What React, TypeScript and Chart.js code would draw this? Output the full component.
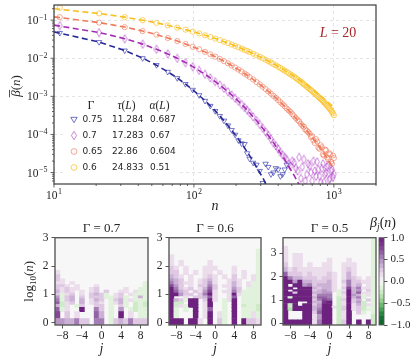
import React, { useEffect, useRef } from 'react';
import { Chart, registerables } from 'chart.js';

Chart.register(...registerables);

const SERIF = "'Liberation Serif', 'DejaVu Serif', serif";
const SANS = "'DejaVu Sans', 'Liberation Sans', sans-serif";
const INK = '#262626';
const FRAME = '#3c3c3c';
const GRID = '#dedede';

// ---------------- top panel data ----------------
const N_LINE = [10, 21, 32, 43, 54, 65, 76, 87, 98, 120, 142, 164, 186, 208, 230, 250, 280, 310, 340, 370, 400, 430, 460, 490, 520, 550, 580, 610, 640, 670, 700, 730, 760, 790, 820, 850, 880, 910, 940, 970, 1000];
const N_MARK = [11, 21, 32, 43, 54, 65, 76, 87, 98, 109, 120, 131, 142, 153, 164, 175, 186, 197, 208, 219, 230, 240, 250, 265, 280, 295, 310, 325, 340, 355, 370, 385, 400, 415, 430, 445, 460, 475, 490, 505, 520, 535, 550, 565, 580, 595, 610, 625, 640, 655, 670, 685, 700, 715, 730, 745, 760, 775, 790, 805, 820, 835, 850, 865, 880, 895, 910, 925, 940, 955, 970, 985, 1000];

const GAMMA_LABELS = ['0.75', '0.7', '0.65', '0.6'];
const TAU_LABELS = ['11.284', '17.283', '22.86', '24.833'];
const ALPHA_LABELS = ['0.687', '0.67', '0.604', '0.51'];

const FIT_075 = [0.0492, 0.0267, 0.0160, 0.0101, 0.00658, 0.00442, 0.00303, 0.00211, 0.00149, 7.7e-4, 4.15e-4, 2.29e-4, 1.30e-4, 7.5e-5, 4.4e-5, 2.77e-5, 1.4e-5, 7.3e-6, 3.8e-6, 2.1e-6, 1.1e-6];
const FIT_07 = [0.074, 0.0474, 0.0327, 0.0235, 0.0173, 0.0130, 0.00997, 0.00772, 0.00604, 0.00380, 0.00245, 0.00162, 0.00109, 7.43e-4, 5.13e-4, 3.70e-4, 2.31e-4, 1.46e-4, 9.4e-5, 6.1e-5, 4.0e-5, 2.7e-5, 1.8e-5, 1.2e-5, 8.4e-6, 5.7e-6, 4.0e-6, 2.8e-6];
const FIT_065 = [0.122, 0.0866, 0.0658, 0.0518, 0.0417, 0.0342, 0.0284, 0.0238, 0.0201, 0.01472, 0.0110, 0.00836, 0.00645, 0.00503, 0.00397, 0.00322, 0.00239, 0.00179, 0.00136, 0.00104, 8.0e-4, 6.2e-4, 4.9e-4, 3.8e-4, 3.0e-4, 2.4e-4, 1.94e-4, 1.56e-4, 1.26e-4, 1.02e-4, 8.3e-5, 6.8e-5, 5.5e-5, 4.6e-5, 3.8e-5, 3.1e-5, 2.6e-5, 2.1e-5, 1.8e-5, 1.5e-5, 1.24e-5];
const FIT_06 = [0.200, 0.1497, 0.1202, 0.0999, 0.0849, 0.0732, 0.0639, 0.0564, 0.0501, 0.0402, 0.0329, 0.0273, 0.0230, 0.0195, 0.0167, 0.01458, 0.01202, 0.01001, 0.00840, 0.00711, 0.00605, 0.00518, 0.00446, 0.00386, 0.00335, 0.00292, 0.00256, 0.00225, 0.00198, 0.00175, 0.00155, 0.00138, 0.00122, 0.00109, 9.75e-4, 8.7e-4, 7.8e-4, 7.0e-4, 6.3e-4, 5.7e-4, 5.2e-4];

const MARK_075 = [0.046, 0.0265, 0.0159, 0.0100, 0.0066, 0.0044, 0.0030, 0.0021, 0.00148, 0.00107, 7.6e-4, 5.6e-4, 4.1e-4, 3.05e-4, 2.3e-4, 1.72e-4, 1.3e-4, 9.8e-5, 7.0e-5, 5.8e-5, 5.6e-5, 3.2e-5, 2.3e-5, 1.8e-5, 1.6e-5, 1.1e-5, 5.3e-6, 1.7e-5, 1.4e-5, 9e-6, 1.0e-5, 1.3e-5, 1.2e-5, 8e-6, 9e-6, 1.2e-5, 1.6e-5];
const MARK_07 = [0.072, 0.0470, 0.0325, 0.0234, 0.0172, 0.0130, 0.0099, 0.0077, 0.0060, 0.0048, 0.0038, 0.00305, 0.00244, 0.00199, 0.00161, 0.00132, 0.00108, 8.9e-4, 7.4e-4, 6.1e-4, 5.1e-4, 4.35e-4, 3.7e-4, 2.9e-4, 2.3e-4, 1.83e-4, 1.45e-4, 1.17e-4, 9.5e-5, 7.6e-5, 6.0e-5, 5.0e-5, 4.2e-5, 3.4e-5, 2.9e-5, 2.5e-5, 2.2e-5, 1.7e-5, 1.5e-5, 2.0e-5, 1.8e-5, 1.3e-5, 1.1e-5, 2.5e-5, 7e-6, 1.4e-5, 2.2e-5, 6e-6, 9e-6, 1.7e-5, 1.5e-5, 1.0e-5, 6e-6, 2.0e-5, 1.1e-5, 8e-6, 1.9e-5, 1.2e-5, 8e-6, 5.5e-6, 1.3e-5, 1.7e-5, 5.5e-6, 9e-6, 1.0e-5, 1.4e-5, 1.6e-5, 6.5e-6, 7e-6, 1.1e-5, 1.2e-5, 7.5e-6, 9e-6];
const MARK_065 = [0.120, 0.0862, 0.0655, 0.0516, 0.0416, 0.0341, 0.0283, 0.0237, 0.0200, 0.0172, 0.0147, 0.0127, 0.0110, 0.0096, 0.00835, 0.00735, 0.00645, 0.00570, 0.00503, 0.00447, 0.00397, 0.00358, 0.00322, 0.00277, 0.00238, 0.00206, 0.00178, 0.00155, 0.00135, 0.00118, 0.00103, 9.1e-4, 8.0e-4, 7.0e-4, 6.2e-4, 5.5e-4, 4.8e-4, 4.3e-4, 3.9e-4, 3.4e-4, 3.0e-4, 2.7e-4, 2.4e-4, 2.2e-4, 1.9e-4, 1.7e-4, 1.6e-4, 1.35e-4, 1.25e-4, 1.15e-4, 1.05e-4, 8.5e-5, 9.0e-5, 7.0e-5, 6.0e-5, 7.5e-5, 6.5e-5, 4.5e-5, 4.2e-5, 5.2e-5, 4.6e-5, 3.0e-5, 2.8e-5, 4.0e-5, 3.8e-5, 2.5e-5, 2.2e-5, 3.2e-5, 3.0e-5, 1.9e-5, 1.7e-5, 2.8e-5, 2.4e-5];
const MARK_06 = [0.21, 0.150, 0.120, 0.0998, 0.0848, 0.0731, 0.0638, 0.0563, 0.0500, 0.0448, 0.0401, 0.0363, 0.0328, 0.0299, 0.0272, 0.0250, 0.0229, 0.0211, 0.0194, 0.0180, 0.0166, 0.0156, 0.0145, 0.0132, 0.01195, 0.01090, 0.00995, 0.00913, 0.00834, 0.00767, 0.00705, 0.00650, 0.00598, 0.00552, 0.00510, 0.00473, 0.00438, 0.00406, 0.00377, 0.00350, 0.00325, 0.00302, 0.00280, 0.00260, 0.00242, 0.00225, 0.00208, 0.00194, 0.00180, 0.00168, 0.00156, 0.00146, 0.00136, 0.00127, 0.00119, 0.00111, 0.00104, 9.7e-4, 9.1e-4, 8.5e-4, 8.0e-4, 7.5e-4, 7.0e-4, 6.5e-4, 6.1e-4, 5.7e-4, 5.3e-4, 4.9e-4, 4.6e-4, 4.25e-4, 3.9e-4, 3.55e-4, 3.2e-4];

const X_MAJOR = [10, 100, 1000];
const Y_MAJOR = [1e-5, 1e-4, 1e-3, 1e-2, 1e-1];

const LINE_COLORS = ['#28299a', '#a52db5', '#ef7a5a', '#f8c01f'];
const MARK_COLORS = ['rgba(55,58,175,0.8)', 'rgba(178,70,200,0.75)', 'rgba(240,122,92,0.75)', 'rgba(249,193,40,0.85)'];

// ---------------- heatmap data ----------------
// codes: '.'=0, '1'..'9'=0.15..0.95, 'X'=1.0, 'a'..'e'=-0.15..-0.55 ; rows listed top -> bottom
const ROW_EDGES = [-0.1, 0.15, 0.39, 0.54, 0.65, 0.74, 0.85, 0.95, 1.05, 1.15, 1.25, 1.35, 1.45, 1.55, 1.7, 1.85, 2.0, 2.2, 2.4, 2.6, 2.8, 3.0, 3.3, 3.7];
const J_SITES = [-9, -8, -7, -6, -5, -4, -3, -2, -1, 0, 1, 2, 3, 4, 5, 6, 7, 8, 9];
const J_TICKS = [-8, -4, 0, 4, 8];
const LOGN_TICKS = [0, 1, 2, 3];

const HEAT_G07 = [
  '...................',
  '...................',
  '...................',
  '...................',
  '...................',
  '...................',
  '...................',
  '...................',
  '1..................',
  '2..................',
  '21.................',
  '11.1..............a',
  '221.1...1.........a',
  '21211..12.....1..aa',
  '3121.1.12.2..11.1aa',
  '2a12.1.232a.12.1aaa',
  '4a23.2.222aa12a.a3a',
  '5a23.3.132.a23a1aaa',
  '6b12.3.121.a13a.bab',
  '3b1.a2..22.a.2a.bab',
  '6a1..X..52.a.4.abaa',
  '7.2.1...63.a.X.1.aa',
  '4433522.55.a2325222',
];
const HEAT_G06 = [
  '...................',
  '...................',
  '...................',
  '...................',
  '..................a',
  '1.................a',
  '1.1.....1.........a',
  '21.1...111...1....a',
  '22.1.1.11.1..1.1..a',
  '321.1..121.1.2.1.1a',
  '432.1.1231..121..1a',
  '53211.1241..131.1aa',
  '742.1.2252.1131.1aa',
  'X5212.1362..142.aaa',
  'X632.21471.1152aaaa',
  'XX422.25X1..1X1aaaa',
  'X..1.22361..16.aaaa',
  'X32aXX.2X1.a1X.aaaa',
  'Xbb.XX.1X..a.X.aaaa',
  'Xb1aXX.1X..a.X.baab',
  'Xa.a.X.16..a.X.aaab',
  'Xa...X.1X.1a.X.aa1a',
  'XXX.XX1.X.2a.X.X221',
];
const HEAT_G05 = [
  '..................a',
  '1.................a',
  '1.11..............a',
  '1.11.....1...1....a',
  '2.11.1..11..111...a',
  '3121111111..121...a',
  '62221211121.131...a',
  'X5332221221.1321.1a',
  'XX4X3322231.252211a',
  'X.XX4523331.1523.1a',
  'XX.XXX32331.273511a',
  'X.XXXX23431a1X34.2a',
  'XX2XXX3344.a2X3611a',
  'XXXXXX2555.a1X43a1a',
  'XaXXXX3665.b1X35a.a',
  'XXXXXX2576.b2X23.2a',
  'XXX..X338X.b1X24b.a',
  'XbX.XX24XX.b1X13b1a',
  'XbXXXX34XX1b2X12b.a',
  'XcXXXX35XX.b2X12baa',
  'X...XX26XX.b1X.2a.a',
  'X...XX14XX.b1X....b',
  'XXXXXX15XX.b2X.X.Xb',
];
const PANEL_TITLES = ['0.7', '0.6', '0.5'];
const CBAR_TICKS = [-1, -0.5, 0, 0.5, 1];
const CBAR_BANDS = 20;

// PRGn-like colour map (value -1 .. 1)
const CMAP_STOPS = [-1, -0.8, -0.6, -0.4, -0.2, 0, 0.2, 0.4, 0.6, 0.8, 1];
const CMAP_RGB = [[12, 92, 42], [27, 120, 55], [90, 174, 97], [166, 219, 160], [217, 240, 211], [247, 247, 247], [231, 212, 232], [194, 165, 207], [153, 112, 171], [126, 58, 142], [108, 34, 126]];

function cmap(v: number): string {
  const t = Math.max(-1, Math.min(1, v));
  let i = 0;
  while (i < CMAP_STOPS.length - 2 && t > CMAP_STOPS[i + 1]) i++;
  const f = (t - CMAP_STOPS[i]) / (CMAP_STOPS[i + 1] - CMAP_STOPS[i]);
  const a = CMAP_RGB[i], b = CMAP_RGB[i + 1];
  const c = a.map((x, k) => Math.round(x + (b[k] - x) * f));
  return `rgb(${c[0]},${c[1]},${c[2]})`;
}

function codeValue(ch: string): number {
  if (ch === '.') return 0;
  if (ch === 'X') return 1;
  if (ch >= '1' && ch <= '9') return (Number(ch) + 0.5) / 10;
  const k = 'abcde'.indexOf(ch);
  return k >= 0 ? -(k + 1.5) / 10 : 0;
}

function heatCells(grid: string[]) {
  const cells: any[] = [];
  const n = grid.length;
  grid.forEach((row, r) => {
    const k = n - 1 - r;
    const lo = ROW_EDGES[k];
    const hi = ROW_EDGES[k + 1];
    for (let c = 0; c < row.length; c++) {
      const v = codeValue(row[c]);
      if (v === 0) continue;
      cells.push({ x: J_SITES[c], y: [lo, hi], v });
    }
  });
  return cells;
}

const minus = (v: number) => (v < 0 ? '\u2212' + String(-v) : String(v));

function drawRuns(ctx: CanvasRenderingContext2D, runs: { t: string; f: string; dy?: number }[], cx: number, base: number) {
  let total = 0;
  for (const r of runs) { ctx.font = r.f; total += ctx.measureText(r.t).width; }
  let x = cx - total / 2;
  const pos: number[] = [];
  ctx.textAlign = 'left';
  ctx.textBaseline = 'alphabetic';
  for (const r of runs) {
    ctx.font = r.f;
    pos.push(x);
    ctx.fillText(r.t, x, base + (r.dy || 0));
    x += ctx.measureText(r.t).width;
  }
  pos.push(x);
  return pos;
}

function drawPow(ctx: CanvasRenderingContext2D, exp: number, x: number, base: number, align: 'center' | 'right') {
  const b = '10';
  const e = exp < 0 ? '\u2212' + String(-exp) : String(exp);
  const fb = `11.5px ${SERIF}`;
  const fe = `8px ${SERIF}`;
  ctx.font = fb; const wb = ctx.measureText(b).width;
  ctx.font = fe; const we = ctx.measureText(e).width;
  const total = wb + we + 0.5;
  const x0 = align === 'center' ? x - total / 2 : x - total;
  ctx.textAlign = 'left';
  ctx.textBaseline = 'alphabetic';
  ctx.font = fb; ctx.fillText(b, x0, base);
  ctx.font = fe; ctx.fillText(e, x0 + wb + 0.5, base - 4.6);
}

function drawLegendMarker(ctx: CanvasRenderingContext2D, i: number, x: number, y: number) {
  ctx.strokeStyle = MARK_COLORS[i];
  ctx.lineWidth = 0.9;
  ctx.beginPath();
  if (i === 0) {
    ctx.moveTo(x - 3.2, y - 2.2); ctx.lineTo(x + 3.2, y - 2.2); ctx.lineTo(x, y + 3.2); ctx.closePath();
  } else if (i === 1) {
    ctx.moveTo(x, y - 4.2); ctx.lineTo(x + 2.6, y); ctx.lineTo(x, y + 4.2); ctx.lineTo(x - 2.6, y); ctx.closePath();
  } else {
    ctx.arc(x, y, 2.9, 0, Math.PI * 2);
  }
  ctx.stroke();
}

const topDecor = {
  id: 'topDecor',
  afterDraw(chart: any) {
    const { ctx, chartArea: a, scales } = chart;
    const x = scales.x, y = scales.y;
    ctx.save();
    ctx.strokeStyle = FRAME;
    ctx.lineWidth = 0.8;
    ctx.beginPath();
    for (let e = 1; e <= 3; e++) {
      for (let m = 1; m <= 9; m++) {
        const v = m * Math.pow(10, e);
        if (v < x.min || v > x.max) continue;
        const px = x.getPixelForValue(v);
        const len = m === 1 ? 3.5 : 2;
        ctx.moveTo(px, a.bottom); ctx.lineTo(px, a.bottom + len);
      }
    }
    for (let e = -6; e <= -1; e++) {
      for (let m = 1; m <= 9; m++) {
        const v = m * Math.pow(10, e);
        if (v < y.min || v > y.max) continue;
        const py = y.getPixelForValue(v);
        const len = m === 1 ? 3.5 : 2;
        ctx.moveTo(a.left - len, py); ctx.lineTo(a.left, py);
      }
    }
    ctx.stroke();
    ctx.lineWidth = 1.2;
    ctx.strokeRect(a.left, a.top, a.right - a.left, a.bottom - a.top);
    ctx.fillStyle = INK;
    for (const v of X_MAJOR) {
      drawPow(ctx, Math.round(Math.log10(v)), x.getPixelForValue(v), a.bottom + 15, 'center');
    }
    for (const v of Y_MAJOR) {
      drawPow(ctx, Math.round(Math.log10(v)), a.left - 6.5, y.getPixelForValue(v) + 4, 'right');
    }
    // y title  \bar{beta}(n)
    ctx.save();
    ctx.translate(0, 86);
    ctx.rotate(-Math.PI / 2);
    const fI = `italic 13px ${SERIF}`;
    const fR = `13px ${SERIF}`;
    const pos = drawRuns(ctx, [{ t: '\u03B2', f: fI }, { t: '(', f: fR }, { t: 'n', f: fI }, { t: ')', f: fR }], 0, 20);
    ctx.strokeStyle = INK;
    ctx.lineWidth = 0.8;
    ctx.beginPath();
    ctx.moveTo(pos[0] - 0.5, 9.5); ctx.lineTo(pos[1] + 0.5, 9.5);
    ctx.stroke();
    ctx.restore();
    // legend table
    ctx.fillStyle = '#ffffff';
    ctx.fillRect(64, 97, 114, 79);
    ctx.fillStyle = INK;
    drawRuns(ctx, [{ t: '\u0393', f: `12px ${SERIF}` }], 91, 109);
    drawRuns(ctx, [{ t: '\u03C4', f: `italic 11.5px ${SERIF}` }, { t: '(', f: `11.5px ${SERIF}` }, { t: 'L', f: `italic 11.5px ${SERIF}` }, { t: ')', f: `11.5px ${SERIF}` }], 126.5, 109);
    drawRuns(ctx, [{ t: '\u03B1', f: `italic 11.5px ${SERIF}` }, { t: '(', f: `11.5px ${SERIF}` }, { t: 'L', f: `italic 11.5px ${SERIF}` }, { t: ')', f: `11.5px ${SERIF}` }], 159.5, 109);
    const rows = [119.5, 135.5, 151.5, 167.5];
    for (let i = 0; i < 4; i++) {
      drawLegendMarker(ctx, i, 74, rows[i]);
      ctx.fillStyle = INK;
      ctx.font = `9px ${SANS}`;
      ctx.textAlign = 'left';
      ctx.textBaseline = 'middle';
      ctx.fillText(GAMMA_LABELS[i], 82.5, rows[i]);
      ctx.fillText(TAU_LABELS[i], 112, rows[i]);
      ctx.fillText(ALPHA_LABELS[i], 150, rows[i]);
    }
    ctx.fillStyle = '#a3262a';
    drawRuns(ctx, [{ t: 'L', f: `italic 14px ${SERIF}` }, { t: ' = 20', f: `14px ${SERIF}` }], 338, 36.5);
    ctx.restore();
  },
};

function makeTopConfig(diamond: HTMLCanvasElement): any {
  const fits = [FIT_075, FIT_07, FIT_065, FIT_06];
  const marks = [MARK_075, MARK_07, MARK_065, MARK_06];
  const styles: any[] = ['triangle', diamond, 'circle', 'circle'];
  const rots = [180, 0, 0, 0];
  const radii = [3.1, 3, 2.6, 2.6];
  const datasets: any[] = [];
  marks.forEach((m, i) => {
    datasets.push({
      type: 'scatter',
      data: m.map((v, k) => ({ x: N_MARK[k], y: v })),
      pointStyle: styles[i],
      pointRotation: rots[i],
      pointRadius: radii[i],
      pointBorderWidth: 0.85,
      pointBorderColor: MARK_COLORS[i],
      pointBackgroundColor: 'rgba(0,0,0,0)',
      borderColor: MARK_COLORS[i],
      backgroundColor: 'rgba(0,0,0,0)',
      showLine: false,
      order: 1,
    });
  });
  fits.forEach((f, i) => {
    datasets.push({
      type: 'line',
      data: f.map((v, k) => ({ x: N_LINE[k], y: v })),
      borderColor: LINE_COLORS[i],
      borderWidth: 1.6,
      borderDash: [6, 3.5],
      pointRadius: 0,
      fill: false,
      tension: 0,
      order: 0,
    });
  });
  return {
    type: 'scatter',
    data: { datasets },
    options: {
      animation: false,
      responsive: false,
      events: [],
      layout: { padding: { left: 0, right: 40, top: 5, bottom: 0 } },
      plugins: { legend: { display: false }, tooltip: { enabled: false } },
      scales: {
        x: {
          type: 'logarithmic',
          min: 10,
          max: 2000,
          afterBuildTicks: (s: any) => { s.ticks = X_MAJOR.map((v) => ({ value: v })); },
          ticks: { display: false },
          grid: { color: GRID, lineWidth: 0.8, drawTicks: false },
          border: { display: false, dash: [3, 3] },
          title: { display: true, text: 'n', color: INK, font: { family: SERIF, size: 14, style: 'italic' }, padding: { top: 0, bottom: 1 } },
          afterFit: (s: any) => { s.height = 32; },
        },
        y: {
          type: 'logarithmic',
          min: 5e-6,
          max: 0.25,
          afterBuildTicks: (s: any) => { s.ticks = Y_MAJOR.map((v) => ({ value: v })); },
          ticks: { display: false },
          grid: { color: GRID, lineWidth: 0.8, drawTicks: false },
          border: { display: false, dash: [3, 3] },
          afterFit: (s: any) => { s.width = 54; },
        },
      },
    },
    plugins: [topDecor],
  };
}

function makeHeatDecor(title: string, yTitle: boolean) {
  return {
    id: 'heatDecor' + title.replace('.', ''),
    beforeDatasetsDraw(chart: any) {
      const { ctx, chartArea: a } = chart;
      ctx.save();
      ctx.fillStyle = '#f7f7f7';
      ctx.fillRect(a.left, a.top, a.right - a.left, a.bottom - a.top);
      ctx.restore();
    },
    afterDraw(chart: any) {
      const { ctx, chartArea: a } = chart;
      ctx.save();
      ctx.strokeStyle = '#5a5a5a';
      ctx.lineWidth = 1.4;
      ctx.strokeRect(a.left, a.top, a.right - a.left, a.bottom - a.top);
      ctx.fillStyle = INK;
      drawRuns(ctx, [{ t: '\u0393 = ' + title, f: `13px ${SERIF}` }], (a.left + a.right) / 2, 17);
      if (yTitle) {
        ctx.save();
        ctx.translate(33, (a.top + a.bottom) / 2);
        ctx.rotate(-Math.PI / 2);
        drawRuns(ctx, [
          { t: 'log', f: `13px ${SERIF}` },
          { t: '10', f: `9px ${SERIF}`, dy: 3 },
          { t: '(', f: `13px ${SERIF}` },
          { t: 'n', f: `italic 13px ${SERIF}` },
          { t: ')', f: `13px ${SERIF}` },
        ], 0, 0);
        ctx.restore();
      }
      ctx.restore();
    },
  };
}

function makeHeatConfig(grid: string[], title: string, ymin: number, ymax: number, yAxisWidth: number, yTitle: boolean): any {
  return {
    type: 'bar',
    data: {
      datasets: [{
        data: heatCells(grid),
        backgroundColor: (c: any) => cmap(c.raw ? c.raw.v : 0),
        borderWidth: 0,
        barPercentage: 1,
        categoryPercentage: 1,
        grouped: false,
      }],
    },
    options: {
      animation: false,
      responsive: false,
      events: [],
      layout: { padding: { left: 0, right: 2, top: 22.7, bottom: 0 } },
      plugins: { legend: { display: false }, tooltip: { enabled: false } },
      scales: {
        x: {
          type: 'linear',
          min: -9.5,
          max: 9.5,
          offset: false,
          afterBuildTicks: (s: any) => { s.ticks = J_TICKS.map((v) => ({ value: v })); },
          ticks: { autoSkip: false, maxRotation: 0, padding: 1, color: INK, font: { family: SERIF, size: 11.5 }, callback: (v: any) => minus(Number(v)) },
          grid: { offset: false, drawOnChartArea: false, tickLength: 3.5, tickColor: '#555', tickWidth: 1 },
          border: { display: false },
          title: { display: true, text: 'j', color: INK, font: { family: SERIF, size: 14, style: 'italic' }, padding: { top: 0, bottom: 6 } },
          afterFit: (s: any) => { s.height = 39; },
        },
        y: {
          type: 'linear',
          min: ymin,
          max: ymax,
          afterBuildTicks: (s: any) => { s.ticks = LOGN_TICKS.map((v) => ({ value: v })); },
          ticks: { autoSkip: false, padding: 3, color: INK, font: { family: SERIF, size: 11.5 }, callback: (v: any) => minus(Number(v)) },
          grid: { drawOnChartArea: false, tickLength: 3.5, tickColor: '#555', tickWidth: 1 },
          border: { display: false },
          afterFit: (s: any) => { s.width = yAxisWidth; },
        },
      },
    },
    plugins: [makeHeatDecor(title, yTitle)],
  };
}

const cbarDecor = {
  id: 'cbarDecor',
  afterDraw(chart: any) {
    const { ctx, chartArea: a } = chart;
    ctx.save();
    ctx.strokeStyle = '#5a5a5a';
    ctx.lineWidth = 0.9;
    ctx.strokeRect(a.left, a.top, a.right - a.left, a.bottom - a.top);
    ctx.fillStyle = INK;
    drawRuns(ctx, [
      { t: '\u03B2', f: `italic 14px ${SERIF}` },
      { t: 'j', f: `italic 9.5px ${SERIF}`, dy: 3 },
      { t: '(', f: `14px ${SERIF}` },
      { t: 'n', f: `italic 14px ${SERIF}` },
      { t: ')', f: `14px ${SERIF}` },
    ], 27, 12);
    ctx.restore();
  },
};

function makeCbarConfig(): any {
  const datasets: any[] = [];
  for (let i = 0; i < CBAR_BANDS; i++) {
    const lo = -1 + (2 * i) / CBAR_BANDS;
    const hi = lo + 2 / CBAR_BANDS;
    datasets.push({
      data: [[lo, hi]],
      backgroundColor: cmap((lo + hi) / 2),
      borderWidth: 0,
      barPercentage: 1,
      categoryPercentage: 1,
      grouped: false,
    });
  }
  return {
    type: 'bar',
    data: { labels: [''], datasets },
    options: {
      animation: false,
      responsive: false,
      events: [],
      layout: { padding: { left: 23, right: 0, top: 22.7, bottom: 39 } },
      plugins: { legend: { display: false }, tooltip: { enabled: false } },
      scales: {
        x: { display: false },
        y: {
          position: 'right',
          min: -1,
          max: 1,
          afterBuildTicks: (s: any) => { s.ticks = CBAR_TICKS.map((v) => ({ value: v })); },
          ticks: { autoSkip: false, padding: 3, color: INK, font: { family: SERIF, size: 11 }, callback: (v: any) => { const n = Number(v); return (n < 0 ? '\u2212' : '') + Math.abs(n).toFixed(1); } },
          grid: { drawOnChartArea: false, tickLength: 3.5, tickColor: '#555', tickWidth: 1 },
          border: { display: false },
          afterFit: (s: any) => { s.width = 32; },
        },
      },
    },
    plugins: [cbarDecor],
  };
}

export default function App() {
  const topRef = useRef<HTMLCanvasElement>(null);
  const h1 = useRef<HTMLCanvasElement>(null);
  const h2 = useRef<HTMLCanvasElement>(null);
  const h3 = useRef<HTMLCanvasElement>(null);
  const cb = useRef<HTMLCanvasElement>(null);

  useEffect(() => {
    Chart.defaults.font.family = SERIF;
    const dia = document.createElement('canvas');
    dia.width = 6;
    dia.height = 10;
    const dc = dia.getContext('2d')!;
    dc.strokeStyle = MARK_COLORS[1];
    dc.lineWidth = 0.85;
    dc.beginPath();
    dc.moveTo(3, 0.8); dc.lineTo(5.3, 5); dc.lineTo(3, 9.2); dc.lineTo(0.7, 5); dc.closePath();
    dc.stroke();

    const charts: Chart[] = [];
    charts.push(new Chart(topRef.current!, makeTopConfig(dia)));
    charts.push(new Chart(h1.current!, makeHeatConfig(HEAT_G07, PANEL_TITLES[0], -0.08, 3, 55, true)));
    charts.push(new Chart(h2.current!, makeHeatConfig(HEAT_G06, PANEL_TITLES[1], -0.08, 3, 19, false)));
    charts.push(new Chart(h3.current!, makeHeatConfig(HEAT_G05, PANEL_TITLES[2], -0.07, 3.67, 20, false)));
    charts.push(new Chart(cb.current!, makeCbarConfig()));
    return () => charts.forEach((c) => c.destroy());
  }, []);

  const abs = (left: number, top: number, w: number, h: number): React.CSSProperties => ({ position: 'absolute', left, top, width: w, height: h });

  return (
    <div style={{ position: 'fixed', left: 0, top: 0, width: 416, height: 364, background: '#ffffff', overflow: 'hidden' }}>
      <canvas ref={topRef} width={416} height={216} style={abs(0, 0, 416, 216)} />
      <canvas ref={h1} width={150} height={149} style={abs(0, 215, 150, 149)} />
      <canvas ref={h2} width={113} height={149} style={abs(150, 215, 113, 149)} />
      <canvas ref={h3} width={115} height={149} style={abs(263, 215, 115, 149)} />
      <canvas ref={cb} width={60} height={149} style={abs(356, 215, 60, 149)} />
    </div>
  );
}
